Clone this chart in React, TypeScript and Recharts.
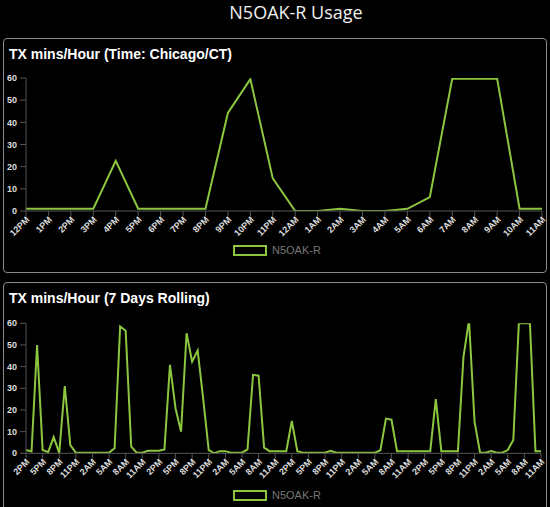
import React from 'react';
import { LineChart, Line, XAxis, YAxis } from 'recharts';

const TITLE = 'N5OAK-R Usage';
const SERIES_NAME = 'N5OAK-R';
const TODAY_TITLE = 'TX mins/Hour (Time: Chicago/CT)';
const WEEK_TITLE = 'TX mins/Hour (7 Days Rolling)';

const HOURS = [
  '12AM', '1AM', '2AM', '3AM', '4AM', '5AM', '6AM', '7AM', '8AM', '9AM', '10AM', '11AM',
  '12PM', '1PM', '2PM', '3PM', '4PM', '5PM', '6PM', '7PM', '8PM', '9PM', '10PM', '11PM',
];

const TODAY_LABELS = [
  '12PM', '1PM', '2PM', '3PM', '4PM', '5PM', '6PM', '7PM', '8PM', '9PM', '10PM', '11PM',
  '12AM', '1AM', '2AM', '3AM', '4AM', '5AM', '6AM', '7AM', '8AM', '9AM', '10AM', '11AM',
];
const TODAY_VALUES = [
  1, 1, 1, 1, 22.6, 1, 1, 1, 1, 44.2, 59.5, 14.7,
  0, 0, 1, 0, 0, 1, 6.3, 59.7, 59.7, 59.7, 1, 1,
];

const WEEK_START_HOUR = 14;
const WEEK_VALUES = [
  1.5, 0.8, 50, 1.5, 0.5, 7.5, 0.2, 31, 3.8, 0.3,
  0.3, 0.3, 0.3, 0.3, 0.3, 0.3, 2.3, 58.5, 56.6, 3.1,
  0.3, 0.3, 1.2, 1.2, 1.2, 1.8, 40.8, 20.8, 10, 55.4,
  42.3, 47.5, 25, 1.5, 0, 1, 1, 0.3, 0.3, 0.3,
  1.8, 36.2, 35.8, 2.6, 1, 1, 1, 1, 14.9, 1,
  0.3, 0.3, 0.3, 0.3, 0.3, 1.2, 0.3, 0.3, 0.3, 0.3,
  0.3, 0.3, 0.3, 0.3, 1.4, 16, 15.5, 1, 1, 1,
  1, 1, 1, 1, 25, 1, 1, 1, 1, 44.5,
  61.5, 14.6, 0.3, 0.3, 1, 0.3, 0.3, 1.5, 6.2, 60,
  60, 60, 1, 1,
];
const Y_TICKS = [0, 10, 20, 30, 40, 50, 60];

const todayData = TODAY_LABELS.map((label, i) => ({ label, value: TODAY_VALUES[i] }));
const weekData = WEEK_VALUES.map((value, i) => ({ label: HOURS[(WEEK_START_HOUR + i) % 24], value }));

const GREEN = '#8cc63f';
const AXIS = '#555';
const TICK_FILL = '#dcdcdc';
const FONT = '"Liberation Sans", Arial, sans-serif';

function XTick(props: any) {
  const { x, y, payload } = props;
  return (
    <g transform={`translate(${x + 2},${y})`}>
      <text
        x={0}
        y={0}
        dy={3}
        textAnchor="end"
        transform="rotate(-45)"
        fill={TICK_FILL}
        fontSize={9}
        fontWeight="bold"
        fontFamily={FONT}
      >
        {payload.value}
      </text>
    </g>
  );
}

function LegendBox({ top }: { top: number }) {
  return (
    <div style={{ position: 'absolute', left: 0, top, width: 550, height: 14 }}>
      <div
        style={{
          position: 'absolute',
          left: 233,
          top: 0,
          width: 30,
          height: 7,
          border: `2px solid ${GREEN}`,
          background: '#000',
        }}
      />
      <div
        style={{
          position: 'absolute',
          left: 272,
          top: -1,
          fontSize: 11,
          lineHeight: '12px',
          color: '#777',
          fontFamily: FONT,
        }}
      >
        {SERIES_NAME}
      </div>
    </div>
  );
}

function Panel({ top, height, title }: { top: number; height: number; title: string }) {
  return (
    <div
      style={{
        position: 'absolute',
        left: 3,
        top,
        width: 544,
        height,
        border: '1px solid #8a8a8a',
        borderRadius: 4,
        boxSizing: 'border-box',
      }}
    >
      <div
        style={{
          position: 'absolute',
          left: 5,
          top: 8,
          fontSize: 14,
          lineHeight: '14px',
          fontWeight: 'bold',
          color: '#fff',
          fontFamily: FONT,
          whiteSpace: 'nowrap',
        }}
      >
        {title}
      </div>
    </div>
  );
}

export default function App() {
  return (
    <div
      style={{
        position: 'fixed',
        left: 0,
        top: 0,
        width: 550,
        height: 507,
        background: '#000',
        overflow: 'hidden',
        fontFamily: FONT,
      }}
    >
      <style>{`.recharts-line { clip-path: none !important; }`}</style>
      <div
        style={{
          position: 'absolute',
          left: 296,
          top: 2,
          transform: 'translateX(-50%)',
          fontSize: 18,
          lineHeight: '20px',
          color: '#f0f0f0',
          fontFamily: '"Open Sans", sans-serif',
          whiteSpace: 'nowrap',
        }}
      >
        {TITLE}
      </div>

      <Panel top={38} height={235} title={TODAY_TITLE} />
      <Panel top={282} height={240} title={WEEK_TITLE} />

      <div style={{ position: 'absolute', left: 0, top: 0 }}>
        <LineChart
          width={550}
          height={270}
          data={todayData}
          margin={{ top: 78, right: 8, left: 6, bottom: 19 }}
        >
          <XAxis
            dataKey="label"
            interval={0}
            height={40}
            tick={<XTick />}
            tickSize={5}
            tickMargin={2}
            stroke={AXIS}
            tickLine={{ stroke: AXIS }}
            axisLine={{ stroke: AXIS }}
          />
          <YAxis
            width={20}
            domain={[0, 60]}
            ticks={Y_TICKS}
            allowDataOverflow
            tickSize={6}
            tickMargin={3}
            stroke={AXIS}
            tick={{ fill: TICK_FILL, fontSize: 9, fontWeight: 'bold', fontFamily: FONT }}
          />
          <Line
            type="linear"
            dataKey="value"
            name={SERIES_NAME}
            stroke={GREEN}
            strokeWidth={2}
            dot={false}
            activeDot={false}
            isAnimationActive={false}
          />
        </LineChart>
      </div>
      <LegendBox top={245} />

      <div style={{ position: 'absolute', left: 0, top: 280 }}>
        <LineChart
          width={550}
          height={227}
          data={weekData}
          margin={{ top: 43.3, right: 9, left: 6, bottom: 13.7 }}
        >
          <XAxis
            dataKey="label"
            interval={2}
            height={40}
            tick={<XTick />}
            tickSize={5}
            tickMargin={2}
            stroke={AXIS}
            tickLine={{ stroke: AXIS }}
            axisLine={{ stroke: AXIS }}
          />
          <YAxis
            width={20}
            domain={[0, 60]}
            ticks={Y_TICKS}
            allowDataOverflow
            tickSize={6}
            tickMargin={3}
            stroke={AXIS}
            tick={{ fill: TICK_FILL, fontSize: 9, fontWeight: 'bold', fontFamily: FONT }}
          />
          <Line
            type="linear"
            dataKey="value"
            name={SERIES_NAME}
            stroke={GREEN}
            strokeWidth={2}
            dot={false}
            activeDot={false}
            isAnimationActive={false}
          />
        </LineChart>
      </div>
      <LegendBox top={490} />
    </div>
  );
}
